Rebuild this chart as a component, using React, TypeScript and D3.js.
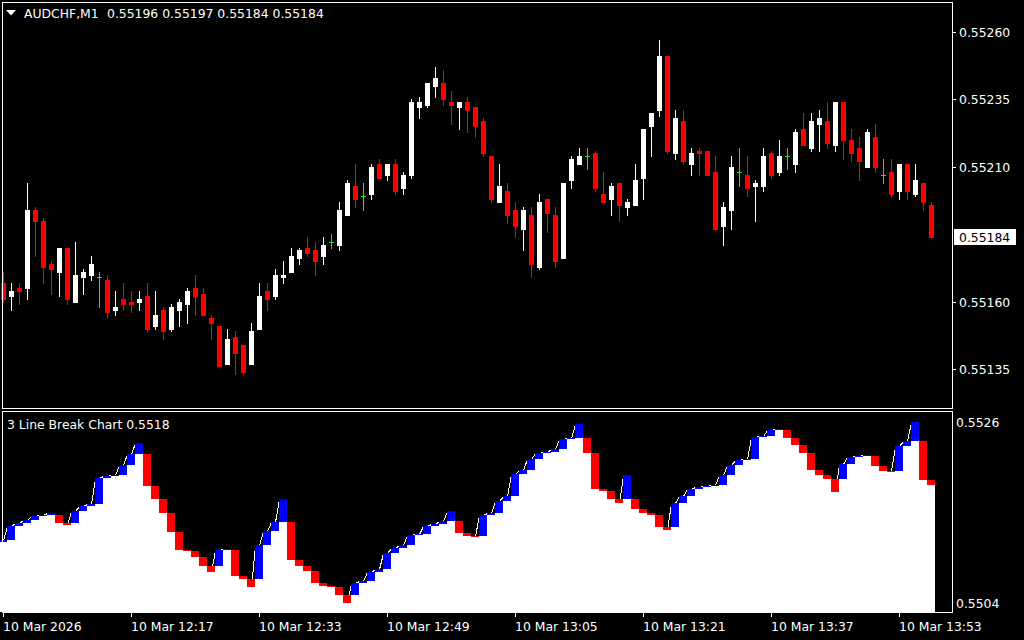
import React from 'react'
import * as d3 from 'd3'

const W = 1024
const H = 640

const symbol = 'AUDCHF,M1'
const indicatorName = '3 Line Break Chart'
const timeLabels = ['10 Mar 2026', '10 Mar 12:17', '10 Mar 12:33', '10 Mar 12:49', '10 Mar 13:05', '10 Mar 13:21', '10 Mar 13:37', '10 Mar 13:53']
const timeLabelBars = [0, 16, 32, 48, 64, 80, 96, 112]
const priceTicks = [0.5526, 0.55235, 0.5521, 0.5516, 0.55135]

// M1 candles, oldest first
const opens = [
  0.55167, 0.55162, 0.55165, 0.55165, 0.55194, 0.5519, 0.55174, 0.55171, 0.5518, 0.5516,
  0.55169, 0.5517, 0.55169, 0.55168, 0.55157, 0.55161, 0.5516, 0.5516, 0.55162, 0.55151,
  0.55157, 0.5515, 0.55157, 0.55159, 0.55165, 0.55163, 0.55154, 0.55151, 0.55137, 0.55147,
  0.55144, 0.55137, 0.5515, 0.55164, 0.55162, 0.55169, 0.55171, 0.55176, 0.5518, 0.55179,
  0.55177, 0.55182, 0.55181, 0.55192, 0.55203, 0.55199, 0.552, 0.55211, 0.55207, 0.55211,
  0.55202, 0.55207, 0.55232, 0.55233, 0.5524, 0.55241, 0.55234, 0.55232, 0.55234, 0.55232,
  0.55227, 0.55214, 0.55197, 0.55201, 0.55194, 0.55187, 0.55192, 0.55173, 0.55198, 0.55192,
  0.55176, 0.55205, 0.55211, 0.55214, 0.55215, 0.552, 0.55198, 0.55204, 0.55195, 0.55196,
  0.55206, 0.55225, 0.55231, 0.55251, 0.55215, 0.55227, 0.55211, 0.55216, 0.55216, 0.55208,
  0.55188, 0.55194, 0.55208, 0.55207, 0.55203, 0.55203, 0.55215, 0.55208, 0.55214, 0.55211,
  0.55224, 0.55217, 0.55226, 0.55227, 0.55218, 0.55234, 0.5522, 0.55217, 0.5521, 0.55221,
  0.55207, 0.55208, 0.55201, 0.55211, 0.552, 0.55204, 0.55196,
]
const highs = [
  0.55171, 0.55167, 0.55167, 0.55204, 0.55195, 0.55191, 0.55175, 0.5518, 0.5518, 0.55182,
  0.55172, 0.55177, 0.55171, 0.5517, 0.55164, 0.55167, 0.55164, 0.55164, 0.55167, 0.55164,
  0.55158, 0.55159, 0.55161, 0.55165, 0.5517, 0.55165, 0.55155, 0.55151, 0.5515, 0.55149,
  0.55144, 0.55152, 0.55167, 0.55167, 0.55172, 0.55175, 0.5518, 0.5518, 0.55184, 0.55182,
  0.55184, 0.55185, 0.55197, 0.55205, 0.55211, 0.55204, 0.55211, 0.55213, 0.55211, 0.55213,
  0.55208, 0.55235, 0.55236, 0.55241, 0.55247, 0.55246, 0.55238, 0.55234, 0.55236, 0.55232,
  0.55228, 0.55214, 0.55211, 0.55204, 0.55197, 0.55195, 0.55195, 0.552, 0.55198, 0.55195,
  0.55204, 0.55214, 0.55217, 0.55217, 0.55216, 0.55208, 0.55204, 0.55204, 0.55198, 0.55211,
  0.55224, 0.5523, 0.55257, 0.55251, 0.55231, 0.55231, 0.55217, 0.55217, 0.55216, 0.55214,
  0.55197, 0.55214, 0.55217, 0.55214, 0.55205, 0.55217, 0.55216, 0.5522, 0.55217, 0.55224,
  0.5523, 0.5523, 0.55231, 0.55234, 0.55234, 0.55234, 0.55224, 0.55221, 0.55224, 0.55226,
  0.55213, 0.55213, 0.55211, 0.55211, 0.55211, 0.55204, 0.55197,
]
const lows = [
  0.5516, 0.55157, 0.55159, 0.55161, 0.55177, 0.55167, 0.55163, 0.55162, 0.55159, 0.5516,
  0.55163, 0.55168, 0.55158, 0.55154, 0.55155, 0.55157, 0.55156, 0.55157, 0.55149, 0.5515,
  0.55146, 0.55149, 0.55151, 0.55152, 0.55155, 0.55155, 0.55146, 0.55136, 0.55137, 0.55133,
  0.55133, 0.55137, 0.5515, 0.55157, 0.55161, 0.55167, 0.55171, 0.55174, 0.55177, 0.5517,
  0.55174, 0.5518, 0.55179, 0.55192, 0.55195, 0.55194, 0.55198, 0.55206, 0.55205, 0.552,
  0.552, 0.55206, 0.55228, 0.55232, 0.55236, 0.55233, 0.55226, 0.55224, 0.55223, 0.55221,
  0.55214, 0.55197, 0.55197, 0.55189, 0.55184, 0.55179, 0.55169, 0.55172, 0.55186, 0.55173,
  0.55176, 0.55202, 0.55211, 0.55209, 0.55201, 0.55197, 0.55192, 0.5519, 0.55192, 0.55196,
  0.55198, 0.55214, 0.55229, 0.55215, 0.55213, 0.55211, 0.55207, 0.55207, 0.55207, 0.55187,
  0.55181, 0.55187, 0.55203, 0.55199, 0.5519, 0.55201, 0.55206, 0.55207, 0.55209, 0.55208,
  0.55218, 0.55216, 0.55216, 0.55217, 0.55216, 0.55213, 0.55212, 0.55205, 0.5521, 0.55208,
  0.55204, 0.55199, 0.55198, 0.55198, 0.55199, 0.55194, 0.55184,
]
const closes = [
  0.55161, 0.55164, 0.55164, 0.55194, 0.5519, 0.55173, 0.55172, 0.5518, 0.55161, 0.5517,
  0.55171, 0.55174, 0.55169, 0.55156, 0.55158, 0.55159, 0.55159, 0.55161, 0.5515, 0.55155,
  0.55149, 0.55158, 0.5516, 0.55164, 0.55162, 0.55155, 0.55152, 0.55136, 0.55146, 0.55141,
  0.55134, 0.55149, 0.55162, 0.55161, 0.5517, 0.5517, 0.55177, 0.55179, 0.55178, 0.55175,
  0.55181, 0.55182, 0.55194, 0.55204, 0.55198, 0.55199, 0.5521, 0.55206, 0.55211, 0.55201,
  0.55207, 0.55234, 0.55234, 0.55241, 0.55243, 0.55235, 0.55233, 0.55234, 0.55231, 0.55225,
  0.55215, 0.55198, 0.55203, 0.55192, 0.55188, 0.55194, 0.55174, 0.55197, 0.55193, 0.55175,
  0.55204, 0.55213, 0.55214, 0.55214, 0.55202, 0.55197, 0.55203, 0.55196, 0.55197, 0.55205,
  0.55224, 0.5523, 0.55251, 0.55216, 0.55228, 0.55212, 0.55215, 0.55215, 0.55207, 0.55187,
  0.55195, 0.5521, 0.55208, 0.55202, 0.55204, 0.55214, 0.55207, 0.55214, 0.55214, 0.55223,
  0.55218, 0.55227, 0.55228, 0.55219, 0.55234, 0.5522, 0.55215, 0.55212, 0.55223, 0.5521,
  0.55207, 0.552, 0.55211, 0.55201, 0.55205, 0.55197, 0.55184,
]

// 3 line break closes, one per bar
const lbFirstOpen = 0.55114
const lbCloses = [
  0.55117, 0.55134, 0.55137, 0.55141, 0.55146, 0.55147, 0.55149, 0.55137, 0.55135, 0.55152,
  0.55158, 0.5516, 0.55192, 0.55194, 0.55196, 0.55208, 0.55221, 0.55235, 0.55182, 0.55166,
  0.55149, 0.55126, 0.55104, 0.55103, 0.55096, 0.55085, 0.55078, 0.55105, 0.55106, 0.55073,
  0.55069, 0.55059, 0.55111, 0.55127, 0.55139, 0.55166, 0.55092, 0.55085, 0.55079, 0.55064,
  0.55061, 0.55059, 0.5505, 0.5504, 0.55064, 0.55067, 0.55078, 0.55081, 0.55101, 0.55107,
  0.5511, 0.55123, 0.55124, 0.55133, 0.55136, 0.5514, 0.55152, 0.55125, 0.55122, 0.55121,
  0.55147, 0.55149, 0.55164, 0.5517, 0.55197, 0.55202, 0.55215, 0.55222, 0.55224, 0.55227,
  0.55239, 0.55241, 0.55258, 0.55222, 0.55179, 0.55176, 0.55166, 0.55161, 0.55196, 0.55154,
  0.55149, 0.55147, 0.55132, 0.55129, 0.55162, 0.5517, 0.55179, 0.55181, 0.55182, 0.55183,
  0.55196, 0.55208, 0.55214, 0.55215, 0.55242, 0.55243, 0.5525, 0.55251, 0.5524, 0.55232,
  0.55222, 0.55202, 0.55196, 0.55191, 0.55175, 0.55209, 0.55218, 0.55219, 0.5522, 0.55207,
  0.55201, 0.552, 0.55231, 0.55237, 0.5526, 0.5519, 0.55183,
]

const font = "'DejaVu Sans', sans-serif"
const fs = 12.4

// main window and indicator window frames
const main = { left: 2, right: 952, top: 2, bottom: 408 }
const sub = { left: 2, right: 952, top: 411, bottom: 612 }

function buildBricks() {
  const out: { open: number; close: number }[] = []
  let prevOpen = lbFirstOpen
  let prevClose = lbFirstOpen
  lbCloses.forEach((c, i) => {
    let open: number
    if (i === 0) open = lbFirstOpen
    else {
      const hi = Math.max(prevOpen, prevClose)
      const lo = Math.min(prevOpen, prevClose)
      open = c > hi ? hi : c < lo ? lo : prevClose
    }
    out.push({ open, close: c })
    prevOpen = open
    prevClose = c
  })
  return out
}

export default function App() {
  const n = closes.length
  const x = d3.scaleLinear().domain([0, n - 1]).range([3, 3 + 8 * (n - 1)])
  const y = d3.scaleLinear().domain([0.55135, 0.5526]).range([369, 32])
  const ySub = d3.scaleLinear().domain([0.5504, 0.5526]).range([603, 422])
  const bricks = buildBricks()
  const last = n - 1
  const lastPrice = closes[last]
  const f5 = d3.format('.5f')
  const r = Math.round

  return (
    <div style={{ position: 'absolute', left: 0, top: 0 }}>
      <svg width={W} height={H} style={{ display: 'block', background: '#000' }} fontFamily={font}>
        <rect width={W} height={H} fill="#000" />

        {/* candles */}
        <g shapeRendering="crispEdges">
          {closes.map((c, i) => {
            const o = opens[i]
            const cx = x(i)
            const col = c > o ? '#ffffff' : c < o ? '#ff0000' : '#00ff00'
            const top = r(y(Math.max(o, c)))
            const bot = r(y(Math.min(o, c)))
            const yh = r(y(highs[i]))
            const yl = r(y(lows[i]))
            return (
              <g key={i}>
                <rect x={cx} y={yh} width={1} height={yl - yh + 1} fill={col} />
                <rect x={cx - 2} y={top} width={5} height={bot - top + 1} fill={col} />
              </g>
            )
          })}
        </g>

        {/* main frame */}
        <rect x={main.left + 0.5} y={main.top + 0.5} width={main.right - main.left} height={main.bottom - main.top} fill="none" stroke="#fff" />

        {/* title */}
        <path d="M6,10 L16,10 L11,15.5 Z" fill="#fff" />
        <text x={24} y={18} fill="#fff" fontSize={fs}>{symbol}</text>
        <text x={107} y={18} fill="#fff" fontSize={fs}>
          {[opens[last], highs[last], lows[last], closes[last]].map(f5).join(' ')}
        </text>

        {/* price axis */}
        {priceTicks.map((p) => (
          <g key={p}>
            <line x1={main.right} x2={main.right + 4} y1={r(y(p)) + 0.5} y2={r(y(p)) + 0.5} stroke="#fff" />
            <text x={959} y={r(y(p)) + 5} fill="#fff" fontSize={fs}>{f5(p)}</text>
          </g>
        ))}
        <rect x={954} y={r(y(lastPrice)) - 8} width={62} height={16} fill="#fff" />
        <text x={959} y={r(y(lastPrice)) + 5} fill="#000" fontSize={fs}>{f5(lastPrice)}</text>

        {/* 3 line break: connecting line, fill, bricks */}
        <g>
          {bricks.map((b, i) =>
            i === 0 ? null : (
              <line
                key={'l' + i}
                x1={x(i - 1) + 0.5}
                y1={r(ySub(bricks[i - 1].close)) + 0.5}
                x2={x(i) - 4 + 0.5}
                y2={r(ySub(b.close)) + 0.5}
                stroke="#fff"
                strokeWidth={1}
                shapeRendering="crispEdges"
              />
            )
          )}
          {bricks.map((b, i) => {
            const cx = x(i)
            const hiY = r(ySub(Math.max(b.open, b.close)))
            const loY = r(ySub(Math.min(b.open, b.close)))
            const col = b.close >= b.open ? '#0000ff' : '#ff0000'
            return (
              <g key={'b' + i} shapeRendering="crispEdges">
                <rect x={cx - 4} y={loY} width={8} height={sub.bottom - loY} fill="#fff" />
                <rect x={cx - 4} y={hiY} width={8} height={Math.max(1, loY - hiY)} fill={col} />
              </g>
            )
          })}
        </g>

        {/* indicator frame */}
        <rect x={sub.left + 0.5} y={sub.top + 0.5} width={sub.right - sub.left} height={sub.bottom - sub.top} fill="none" stroke="#fff" />
        <text x={7} y={429} fill="#fff" fontSize={fs}>
          {indicatorName} {lbCloses[last].toFixed(4)}
        </text>
        {ySub.domain().map((v) => (
          <text key={v} x={956} y={r(ySub(v)) + 5} fill="#fff" fontSize={fs}>{v.toFixed(4)}</text>
        ))}

        {/* time axis */}
        {timeLabelBars.map((b, k) => (
          <g key={b}>
            <line x1={x(b) + 0.5} x2={x(b) + 0.5} y1={sub.bottom} y2={sub.bottom + 5} stroke="#fff" />
            <text x={x(b)} y={631} fill="#fff" fontSize={fs}>{timeLabels[k]}</text>
          </g>
        ))}
      </svg>
    </div>
  )
}
